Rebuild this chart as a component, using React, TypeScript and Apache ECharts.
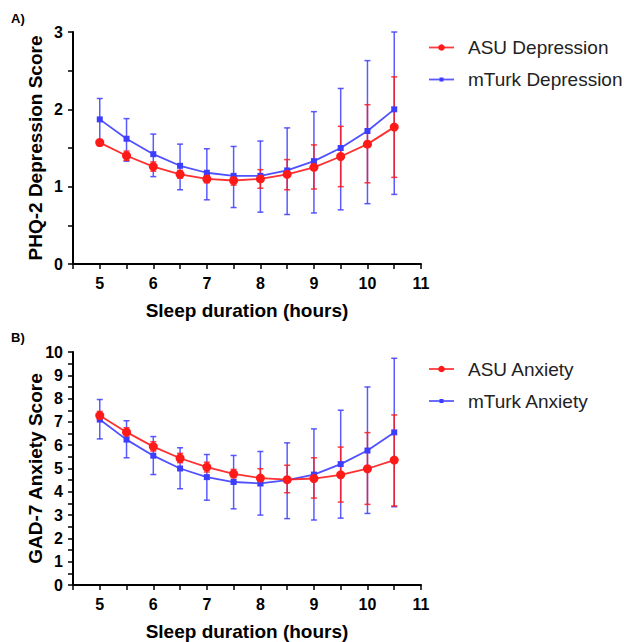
import React, { useEffect, useRef } from "react";
import * as echarts from "echarts";

const hours = [5, 5.5, 6, 6.5, 7, 7.5, 8, 8.5, 9, 9.5, 10, 10.5];

// Panel A – PHQ-2 depression
const asuDep = [1.57, 1.4, 1.26, 1.16, 1.1, 1.08, 1.1, 1.16, 1.25, 1.39, 1.55, 1.77];
const asuDepLow = [1.53, 1.34, 1.2, 1.11, 1.05, 1.02, 0.98, 0.96, 0.97, 1.0, 1.05, 1.12];
const asuDepHigh = [1.61, 1.46, 1.32, 1.21, 1.15, 1.14, 1.22, 1.35, 1.54, 1.78, 2.06, 2.42];
const mturkDep = [1.87, 1.62, 1.42, 1.27, 1.18, 1.14, 1.14, 1.21, 1.33, 1.5, 1.72, 2.0];
const mturkDepLow = [1.6, 1.33, 1.13, 0.96, 0.83, 0.73, 0.67, 0.64, 0.66, 0.7, 0.78, 0.9];
const mturkDepHigh = [2.14, 1.88, 1.68, 1.55, 1.49, 1.52, 1.59, 1.76, 1.97, 2.27, 2.63, 3.0];

// Panel B – GAD-7 anxiety
const asuAnx = [7.27, 6.56, 5.94, 5.44, 5.06, 4.77, 4.59, 4.52, 4.57, 4.73, 4.99, 5.36];
const asuAnxLow = [7.1, 6.35, 5.75, 5.25, 4.85, 4.6, 4.27, 3.96, 3.73, 3.56, 3.46, 3.39];
const asuAnxHigh = [7.45, 6.75, 6.15, 5.65, 5.27, 4.96, 4.99, 5.14, 5.46, 5.92, 6.54, 7.3];
const mturkAnx = [7.1, 6.24, 5.55, 5.0, 4.63, 4.42, 4.36, 4.5, 4.74, 5.19, 5.77, 6.55];
const mturkAnxLow = [6.27, 5.46, 4.74, 4.13, 3.64, 3.27, 3.0, 2.85, 2.79, 2.87, 3.07, 3.36];
const mturkAnxHigh = [7.96, 7.05, 6.37, 5.89, 5.6, 5.56, 5.73, 6.1, 6.7, 7.5, 8.5, 9.73];

const legendA = ["ASU Depression", "mTurk Depression"];
const legendB = ["ASU Anxiety", "mTurk Anxiety"];

const RED = "#ff1a1a";
const BLUE = "#3d3dff";
const FONT = "Arial, 'Liberation Sans', Helvetica, sans-serif";

function zip(xs: number[], ys: number[]) {
  return xs.map((x, i) => [x, ys[i]]);
}
function zip3(xs: number[], a: number[], b: number[]) {
  return xs.map((x, i) => [x, a[i], b[i]]);
}

function errSeries(name: string, idx: number, data: number[][], color: string, z: number) {
  return {
    type: "custom",
    name: name + " err",
    xAxisIndex: idx,
    yAxisIndex: idx,
    z,
    clip: false,
    data,
    encode: { x: 0, y: [1, 2] },
    renderItem: (_p: any, api: any) => {
      const x = api.value(0);
      const lo = api.coord([x, api.value(1)]);
      const hi = api.coord([x, api.value(2)]);
      const cw = 3;
      const st = { stroke: color, lineWidth: 1.5, opacity: 0.85 };
      return {
        type: "group",
        children: [
          { type: "line", shape: { x1: lo[0], y1: lo[1], x2: hi[0], y2: hi[1] }, style: st },
          { type: "line", shape: { x1: lo[0] - cw, y1: lo[1], x2: lo[0] + cw, y2: lo[1] }, style: st },
          { type: "line", shape: { x1: hi[0] - cw, y1: hi[1], x2: hi[0] + cw, y2: hi[1] }, style: st },
        ],
      };
    },
  };
}

function lineSeries(name: string, idx: number, data: number[][], color: string, symbol: string, size: number, z: number) {
  return {
    type: "line",
    name,
    xAxisIndex: idx,
    yAxisIndex: idx,
    data,
    z,
    symbol,
    symbolSize: size,
    smooth: false,
    lineStyle: { color, width: 1.8, opacity: 0.9 },
    itemStyle: { color },
  };
}

function xAxis(idx: number) {
  return {
    type: "value",
    gridIndex: idx,
    min: 4.5,
    max: 11,
    interval: 0.5,
    splitLine: { show: false },
    axisLine: { lineStyle: { color: "#000", width: 2 } },
    axisTick: { lineStyle: { color: "#000", width: 1.5 }, length: 5 },
    axisLabel: {
      color: "#000",
      fontWeight: "bold",
      fontSize: 16,
      fontFamily: FONT,
      margin: 11,
      formatter: (v: number) => (Number.isInteger(v) && v > 4.5 ? String(v) : ""),
    },
    name: "Sleep duration (hours)",
    nameLocation: "middle",
    nameGap: 37,
    nameTextStyle: { color: "#000", fontWeight: "bold", fontSize: 19, fontFamily: FONT },
  };
}

function yAxis(idx: number, max: number, name: string) {
  return {
    type: "value",
    gridIndex: idx,
    min: 0,
    max,
    interval: 0.5,
    splitLine: { show: false },
    axisLine: { show: true, lineStyle: { color: "#000", width: 2 } },
    axisTick: { show: true, lineStyle: { color: "#000", width: 1.5 }, length: 5 },
    axisLabel: {
      color: "#000",
      fontWeight: "bold",
      fontSize: 16,
      fontFamily: FONT,
      margin: 10,
      formatter: (v: number) => (Number.isInteger(v) ? String(v) : ""),
    },
    name,
    nameLocation: "middle",
    nameGap: 28,
    nameMoveOverlap: false,
    nameTextStyle: { color: "#000", fontWeight: "bold", fontSize: 19, fontFamily: FONT },
  };
}

function legendGraphics(names: string[], y0: number, y1: number) {
  const out: any[] = [];
  const rows = [
    { name: names[0], y: y0, color: RED, sym: "circle" },
    { name: names[1], y: y1, color: BLUE, sym: "rect" },
  ];
  rows.forEach((r) => {
    out.push({
      type: "line",
      shape: { x1: 429, y1: r.y, x2: 454, y2: r.y },
      style: { stroke: r.color, lineWidth: 1.8, opacity: 0.85 },
    });
    if (r.sym === "circle") {
      out.push({ type: "circle", shape: { cx: 441.5, cy: r.y, r: 3.3 }, style: { fill: r.color } });
    } else {
      out.push({ type: "rect", shape: { x: 439.5, y: r.y - 2, width: 4, height: 4 }, style: { fill: r.color } });
    }
    out.push({
      type: "text",
      x: 468,
      y: r.y,
      style: { text: r.name, fill: "#222", fontSize: 19, fontFamily: FONT, verticalAlign: "middle", align: "left" },
    });
  });
  return out;
}

export default function App() {
  const ref = useRef<HTMLDivElement>(null);
  useEffect(() => {
    if (!ref.current) return;
    const chart = echarts.init(ref.current, null, { renderer: "svg" });
    chart.setOption({
      animation: false,
      backgroundColor: "#fff",
      grid: [
        { left: 73, top: 32, width: 348, height: 232 },
        { left: 73, top: 352, width: 348, height: 234 },
      ],
      xAxis: [xAxis(0), xAxis(1)],
      yAxis: [yAxis(0, 3, "PHQ-2 Depression Score"), yAxis(1, 10, "GAD-7 Anxiety Score")],
      series: [
        errSeries(legendA[1], 0, zip3(hours, mturkDepLow, mturkDepHigh), BLUE, 2),
        errSeries(legendA[0], 0, zip3(hours, asuDepLow, asuDepHigh), RED, 3),
        lineSeries(legendA[1], 0, zip(hours, mturkDep), BLUE, "rect", 6, 4),
        lineSeries(legendA[0], 0, zip(hours, asuDep), RED, "circle", 9, 5),
        errSeries(legendB[1], 1, zip3(hours, mturkAnxLow, mturkAnxHigh), BLUE, 2),
        errSeries(legendB[0], 1, zip3(hours, asuAnxLow, asuAnxHigh), RED, 3),
        lineSeries(legendB[1], 1, zip(hours, mturkAnx), BLUE, "rect", 6, 4),
        lineSeries(legendB[0], 1, zip(hours, asuAnx), RED, "circle", 9, 5),
      ],
      graphic: [
        {
          type: "text",
          x: 11,
          y: 18,
          style: { text: "A)", fill: "#000", fontSize: 13, fontWeight: "bold", fontFamily: FONT, verticalAlign: "middle" },
        },
        {
          type: "text",
          x: 11,
          y: 337,
          style: { text: "B)", fill: "#000", fontSize: 13, fontWeight: "bold", fontFamily: FONT, verticalAlign: "middle" },
        },
        ...legendGraphics(legendA, 47.5, 79.5),
        ...legendGraphics(legendB, 369, 401),
      ],
    });
    return () => chart.dispose();
  }, []);
  return <div ref={ref} style={{ position: "fixed", left: 0, top: 0, width: 624, height: 642 }} />;
}
